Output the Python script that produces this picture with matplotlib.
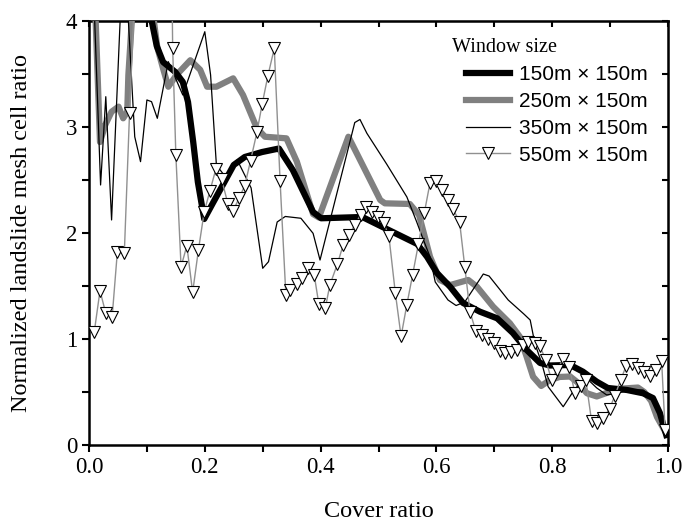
import numpy as np
import matplotlib
matplotlib.use("Agg")
import matplotlib.pyplot as plt

# 150m x 150m
x150 = [0.10, 0.108, 0.117, 0.128, 0.149, 0.162, 0.171, 0.180, 0.188, 0.199, 0.214, 0.233, 0.250,
        0.269, 0.299, 0.328, 0.352, 0.387, 0.401, 0.472, 0.514, 0.567, 0.584, 0.601, 0.624,
        0.646, 0.675, 0.705, 0.732, 0.756, 0.779, 0.796, 0.831, 0.853, 0.877, 0.896, 0.929,
        0.957, 0.974, 0.986, 0.997]
y150 = [4.25, 4.009, 3.764, 3.613, 3.519, 3.425, 3.236, 2.858, 2.481, 2.132, 2.283, 2.472, 2.642,
        2.717, 2.764, 2.797, 2.594, 2.198, 2.139, 2.151, 2.038, 1.896, 1.774, 1.623, 1.491,
        1.340, 1.258, 1.195, 1.057, 0.896, 0.774, 0.750, 0.755, 0.692, 0.597, 0.538, 0.519,
        0.488, 0.443, 0.302, 0.094]

# 250m x 150m
x250 = [0.005, 0.019, 0.028, 0.039, 0.051, 0.059, 0.066, 0.068, 0.074, 0.085, 0.105, 0.118,
        0.128, 0.137, 0.151, 0.175, 0.192, 0.204, 0.220, 0.249, 0.266, 0.290, 0.304, 0.341,
        0.359, 0.387, 0.397, 0.448, 0.503, 0.511, 0.554, 0.570, 0.589, 0.606, 0.624, 0.655,
        0.670, 0.698, 0.727, 0.744, 0.756, 0.767, 0.781, 0.796, 0.813, 0.831, 0.843, 0.860,
        0.877, 0.900, 0.923, 0.948, 0.959, 0.971, 0.981, 0.996]
y250 = [5.0, 2.858, 3.019, 3.144, 3.192, 3.082, 3.142, 3.491, 4.009, 4.6, 4.3, 3.75,
        3.55, 3.38, 3.49, 3.63, 3.54, 3.38, 3.38, 3.459, 3.302, 2.988, 2.908, 2.893,
        2.673, 2.179, 2.146, 2.908, 2.311, 2.280, 2.274, 2.170, 1.776, 1.557, 1.509, 1.557,
        1.493, 1.305, 1.148, 1.022, 0.830, 0.644, 0.557, 0.613, 0.642, 0.646, 0.594, 0.488,
        0.458, 0.503, 0.533, 0.542, 0.500, 0.415, 0.264, 0.118]

# 350m x 150m
x350 = [0.0, 0.020, 0.029, 0.039, 0.060, 0.079, 0.089, 0.100, 0.108, 0.118, 0.137, 0.162,
        0.200, 0.210, 0.220, 0.237, 0.256, 0.280, 0.300, 0.310, 0.325, 0.339, 0.366, 0.387,
        0.399, 0.459, 0.468, 0.480, 0.514, 0.549, 0.566, 0.575, 0.589, 0.598, 0.620, 0.634,
        0.649, 0.681, 0.691, 0.724, 0.751, 0.762, 0.770, 0.782, 0.793, 0.819, 0.839, 0.858,
        0.877, 0.894, 0.911, 0.934, 0.957, 0.975, 0.986, 0.997]
y350 = [5.5, 2.453, 3.286, 2.123, 4.8, 2.908, 2.673, 3.255, 3.239, 3.082, 3.616, 3.302,
        3.899, 3.491, 2.642, 2.519, 2.689, 2.425, 1.667, 1.729, 2.104, 2.156, 2.139, 1.997,
        1.745, 3.042, 3.071, 2.940, 2.651, 2.340, 2.104, 1.972, 1.774, 1.538, 1.368, 1.316,
        1.349, 1.613, 1.594, 1.368, 1.236, 1.179, 0.959, 0.771, 0.550, 0.361, 0.528, 0.637,
        0.538, 0.472, 0.488, 0.519, 0.519, 0.441, 0.267, 0.110]

# 550m x 150m
x550 = [0.009, 0.019, 0.029, 0.040, 0.049, 0.061, 0.070, 0.080, 0.090, 0.100, 0.110, 0.120,
        0.130, 0.140, 0.1445, 0.150, 0.159, 0.169, 0.179, 0.189, 0.199, 0.209, 0.219, 0.229,
        0.240, 0.249, 0.259, 0.269, 0.279, 0.290, 0.299, 0.309, 0.320, 0.330, 0.340, 0.348,
        0.359, 0.368, 0.379, 0.389, 0.397, 0.408, 0.416, 0.429, 0.439, 0.449, 0.459, 0.469,
        0.479, 0.489, 0.499, 0.509, 0.518, 0.529, 0.539, 0.549, 0.559, 0.569, 0.579, 0.589,
        0.599, 0.609, 0.620, 0.629, 0.640, 0.649, 0.658, 0.668, 0.678, 0.689, 0.699, 0.709,
        0.719, 0.729, 0.739, 0.749, 0.759, 0.770, 0.779, 0.789, 0.799, 0.808, 0.819, 0.829,
        0.839, 0.849, 0.858, 0.868, 0.878, 0.888, 0.899, 0.908, 0.918, 0.928, 0.938, 0.948,
        0.959, 0.969, 0.979, 0.989, 0.995]
y550 = [1.063, 1.456, 1.242, 1.210, 1.824, 1.808, 3.13, 4.4, 5.0, 5.0, 5.0, 5.0,
        5.0, 6.0, 3.745, 2.736, 1.682, 1.880, 1.441, 1.840, 2.201, 2.399, 2.601, 2.507,
        2.274, 2.210, 2.327, 2.446, 2.682, 2.950, 3.214, 3.484, 3.742, 2.493, 1.415, 1.462,
        1.516, 1.573, 1.667, 1.604, 1.327, 1.290, 1.509, 1.708, 1.887, 1.981, 2.075, 2.170,
        2.248, 2.201, 2.154, 2.094, 1.969, 1.437, 1.025, 1.325, 1.608, 1.898, 2.186, 2.474,
        2.491, 2.406, 2.311, 2.224, 2.107, 1.682, 1.258, 1.075, 1.042, 1.000, 0.962, 0.887,
        0.868, 0.880, 0.899, 0.948, 0.972, 0.959, 0.931, 0.799, 0.613, 0.708, 0.811, 0.739,
        0.495, 0.557, 0.616, 0.226, 0.208, 0.252, 0.342, 0.462, 0.610, 0.750, 0.767, 0.724,
        0.689, 0.651, 0.708, 0.792, 0.142]

labels = ["150m \u00d7 150m", "250m \u00d7 150m", "350m \u00d7 150m", "550m \u00d7 150m"]
xmajor = [0.0, 0.2, 0.4, 0.6, 0.8, 1.0]
xminor = [0.1, 0.3, 0.5, 0.7, 0.9]
ymajor = [0, 1, 2, 3, 4]
yminor = [0.5, 1.5, 2.5, 3.5]

plt.rcParams['font.family'] = ['Liberation Serif', 'DejaVu Serif']

fig = plt.figure(figsize=(6.86, 5.27), dpi=100)
ax = fig.add_axes([89 / 686, 1 - 445 / 527, 579 / 686, 424 / 527])

ax.plot(x150, y150, color='black', lw=4.5, label=labels[0], zorder=4)
ax.plot(x250, y250, color='#808080', lw=4.5, label=labels[1], zorder=3)
ax.plot(x350, y350, color='black', lw=0.9, label=labels[2], zorder=5)
ax.plot(x550, y550, color='#909090', lw=1.0, marker='v', markersize=8,
        markerfacecolor='white', markeredgecolor='black', markeredgewidth=0.8,
        label=labels[3], zorder=6)

ax.set_xlim(0, 1)
ax.set_ylim(0, 4)
ax.set_xticks(xmajor)
ax.set_xticks(xminor, minor=True)
ax.set_yticks(ymajor)
ax.set_yticks(yminor, minor=True)
ax.xaxis.set_major_formatter(matplotlib.ticker.FormatStrFormatter('%.1f'))
ax.tick_params(which='both', direction='out', length=5, width=1.5, labelsize=16.5)

# top and right: short inward ticks, no labels
sx = ax.secondary_xaxis('top')
sx.set_xticks(xmajor)
sx.set_xticks(xminor, minor=True)
sx.tick_params(which='both', direction='in', length=4, width=1.5, labeltop=False)
sy = ax.secondary_yaxis('right')
sy.set_yticks(ymajor)
sy.set_yticks(yminor, minor=True)
sy.tick_params(which='both', direction='in', length=4, width=1.5, labelright=False)
for s in ax.spines.values():
    s.set_linewidth(1.8)

ax.set_xlabel('Cover ratio', fontsize=17.5, labelpad=17)
ax.set_ylabel('Normalized landslide mesh cell ratio', fontsize=17.5, labelpad=24)

ax.text((452 - 89) / 579, 1 - (47 - 21) / 424, 'Window size',
        transform=ax.transAxes, fontsize=14.5, va='center', ha='left')
leg = ax.legend(loc='upper right', bbox_to_anchor=(1 - 20 / 579, 1 - (65 - 21) / 424),
                frameon=False, handlelength=2.1, handletextpad=0.45,
                labelspacing=0.38, borderaxespad=0.0, borderpad=0.0,
                prop={'family': 'Liberation Sans', 'size': 15})

fig.savefig('out.png', dpi=100)
